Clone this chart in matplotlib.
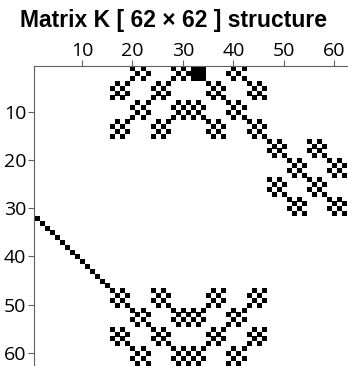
import numpy as np
import matplotlib
matplotlib.use("Agg")
import matplotlib.pyplot as plt

n = 62
title = "Matrix K [ 62 \u00d7 62 ] structure"
ticks = [10, 20, 30, 40, 50, 60]

# lone diagonal in the lower left: start row, start col, length (1-based)
diag_row0, diag_col0, diag_len = 32, 1, 15

# dense block at the top
solid_rows = [1, 2, 3]
solid_cols = [32, 33, 34]

# "flower" blocks (4 rows high, checker filled): top-left row / col
top_rows = [0, 0, 0, 4, 4, 4, 4, 8, 8, 8, 8, 12, 12, 12, 12]
top_cols = [20, 28, 39, 16, 24, 35, 43, 20, 28, 32, 39, 16, 24, 35, 43]
right_rows = [16, 16, 20, 20, 24, 24, 28, 28]
right_cols = [47, 55, 51, 59, 47, 55, 51, 59]
bot_rows = [47, 47, 47, 47, 51, 51, 51, 51, 55, 55, 55, 55, 59, 59, 59, 59]
bot_cols = [16, 24, 35, 43, 20, 28, 32, 39, 16, 24, 35, 43, 20, 28, 32, 39]
narrow_col = 32   # blocks starting here are only 3 columns wide

# build the sparsity pattern
K = np.zeros((n, n), dtype=bool)
for r0, c0 in zip(top_rows + right_rows + bot_rows, top_cols + right_cols + bot_cols):
    w = 3 if c0 == narrow_col else 4
    for i in range(r0, r0 + 4):
        for j in range(c0, c0 + w):
            if 1 <= i <= n and 1 <= j <= n and (i + j) % 2 == 1:
                K[i - 1, j - 1] = True
for k in range(diag_len):
    K[diag_row0 + k - 1, diag_col0 + k - 1] = True
for i in solid_rows:
    for j in solid_cols:
        K[i - 1, j - 1] = True

rr, cc = np.nonzero(K)

fig = plt.figure(figsize=(3.48, 3.66), dpi=100)
ax = fig.add_axes([34 / 348, 1 / 366, 313 / 348, 299 / 366])
ax.plot(cc + 1, rr + 1, 's', color='black', markersize=3.6, markeredgewidth=0, linestyle='none')

ax.set_xlim(0.5, n + 0.5)
ax.set_ylim(n + 0.5, 0.5)
ax.xaxis.tick_top()
ax.set_xticks(ticks)
ax.set_yticks(ticks)
for s in ['right', 'bottom']:
    ax.spines[s].set_visible(False)
for s in ['left', 'top']:
    ax.spines[s].set_color('#606060')
ax.tick_params(axis='both', length=4, width=0.8, color='#606060',
               labelsize=14, labelcolor='black')
ax.tick_params(axis='x', pad=0.5)
ax.tick_params(axis='y', pad=1.5)
for lab in ax.get_xticklabels() + ax.get_yticklabels():
    lab.set_family('Open Sans')

fig.text(0.5, (366 - 26.7) / 366, title, ha='center', va='baseline',
         fontsize=16.5, fontweight='bold', family='Liberation Sans')

fig.savefig('out.png', dpi=100)
